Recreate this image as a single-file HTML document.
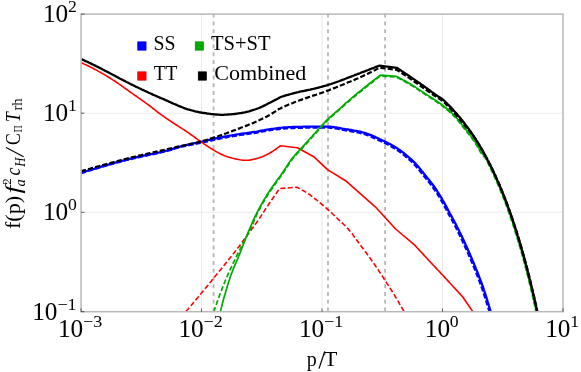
<!DOCTYPE html><html><head><meta charset="utf-8"><title>plot</title><style>html,body{margin:0;padding:0;background:#fff;font-family:"Liberation Serif",serif}svg{display:block;will-change:transform;opacity:0.999}</style></head><body><svg width="581" height="372" viewBox="0 0 581 372">
<rect width="581" height="372" fill="#fff"/>
<line x1="201.5" y1="14.1" x2="201.5" y2="311.7" stroke="#e6e6e6" stroke-width="0.8"/>
<line x1="322" y1="14.1" x2="322" y2="311.7" stroke="#e6e6e6" stroke-width="0.8"/>
<line x1="442.5" y1="14.1" x2="442.5" y2="311.7" stroke="#e6e6e6" stroke-width="0.8"/>
<line x1="81.1" y1="113.2" x2="563" y2="113.2" stroke="#e6e6e6" stroke-width="0.8"/>
<line x1="81.1" y1="212.3" x2="563" y2="212.3" stroke="#e6e6e6" stroke-width="0.8"/>
<line x1="213.6" y1="13.7" x2="213.6" y2="311.7" stroke="#b6b6b6" stroke-width="1.8" stroke-dasharray="3.9 3.83"/>
<line x1="328" y1="13.7" x2="328" y2="311.7" stroke="#b6b6b6" stroke-width="1.8" stroke-dasharray="3.9 3.83"/>
<line x1="385.1" y1="13.7" x2="385.1" y2="311.7" stroke="#b6b6b6" stroke-width="1.8" stroke-dasharray="3.9 3.83"/>
<defs><clipPath id="c"><rect x="81" y="14" width="482" height="297.7"/></clipPath></defs>
<g clip-path="url(#c)" fill="none" stroke-linejoin="round">
<path d="M81.0,172.8 L82.4,172.3 L83.9,171.9 L85.3,171.4 L86.8,171.0 L88.2,170.5 L89.6,170.1 L91.1,169.7 L92.5,169.2 L94.0,168.8 L95.4,168.3 L96.9,167.9 L98.3,167.5 L99.8,167.1 L101.2,166.6 L102.6,166.2 L104.1,165.8 L105.5,165.4 L107.0,165.0 L108.4,164.6 L109.9,164.1 L111.3,163.7 L112.8,163.3 L114.3,162.9 L115.7,162.5 L117.2,162.2 L118.6,161.8 L120.1,161.4 L121.5,161.0 L123.0,160.6 L124.4,160.2 L125.9,159.8 L127.4,159.5 L128.8,159.1 L130.3,158.7 L131.7,158.4 L133.2,158.0 L134.7,157.7 L136.1,157.3 L137.6,157.0 L139.1,156.7 L140.6,156.4 L142.0,156.0 L143.5,155.7 L145.0,155.4 L146.5,155.1 L147.9,154.8 L149.4,154.5 L150.9,154.2 L152.4,153.9 L153.8,153.6 L155.3,153.2 L156.8,152.9 L158.3,152.6 L159.7,152.3 L161.2,151.9 L162.7,151.6 L164.1,151.2 L165.6,150.9 L167.1,150.5 L168.5,150.1 L170.0,149.7 L171.4,149.3 L172.8,148.8 L174.3,148.3 L175.7,147.8 L177.1,147.4 L178.6,147.0 L180.0,146.6 L181.5,146.2 L182.9,145.9 L184.4,145.5 L185.9,145.2 L187.3,144.8 L188.8,144.5 L190.3,144.2 L191.8,143.8 L193.2,143.5 L194.7,143.2 L196.2,142.9 L197.7,142.5 L199.1,142.2 L200.6,141.9 L202.1,141.6 L203.5,141.2 L205.0,140.9 L206.5,140.5 L207.9,140.2 L209.4,139.8 L210.9,139.5 L212.4,139.2 L213.8,138.8 L215.3,138.5 L216.8,138.2 L218.2,137.9 L219.7,137.6 L221.2,137.3 L222.7,137.0 L224.2,136.7 L225.6,136.4 L227.1,136.2 L228.6,135.9 L230.1,135.6 L231.6,135.4 L233.1,135.1 L234.5,134.9 L236.0,134.6 L237.5,134.4 L239.0,134.2 L240.5,133.9 L242.0,133.7 L243.5,133.5 L245.0,133.3 L246.5,133.1 L248.0,132.9 L249.5,132.7 L250.9,132.5 L252.4,132.2 L253.9,132.0 L255.4,131.8 L256.9,131.6 L258.4,131.3 L259.9,131.0 L261.4,130.7 L262.8,130.4 L264.3,130.2 L265.8,129.9 L267.3,129.6 L268.8,129.4 L270.3,129.2 L271.8,129.0 L273.2,128.8 L274.7,128.6 L276.2,128.4 L277.7,128.2 L279.2,128.0 L280.7,127.8 L282.2,127.7 L283.7,127.5 L285.2,127.4 L286.7,127.3 L288.2,127.2 L289.7,127.2 L291.3,127.1 L292.8,127.0 L294.3,127.0 L295.8,126.9 L297.3,126.9 L298.8,126.8 L300.3,126.8 L301.8,126.8 L303.3,126.7 L304.8,126.7 L306.3,126.7 L307.8,126.7 L309.3,126.7 L310.8,126.6 L312.3,126.6 L313.9,126.6 L315.4,126.6 L316.9,126.6 L318.4,126.6 L319.9,126.6 L321.4,126.6 L322.9,126.6 L324.4,126.6 L325.9,126.6 L327.4,126.6 L328.9,126.6 L330.4,126.7 L331.9,126.9 L333.4,127.0 L334.9,127.3 L336.4,127.5 L337.9,127.8 L339.4,128.0 L340.9,128.3 L342.4,128.6 L343.8,128.8 L345.3,129.1 L346.8,129.3 L348.3,129.5 L349.8,129.8 L351.3,130.0 L352.8,130.3 L354.3,130.6 L355.7,130.8 L357.2,131.1 L358.7,131.4 L360.2,131.7 L361.7,132.1 L363.1,132.5 L364.5,132.9 L366.0,133.3 L367.4,133.8 L368.8,134.3 L370.2,134.8 L371.6,135.4 L373.0,136.0 L374.4,136.6 L375.8,137.3 L377.1,137.9 L378.5,138.5 L379.9,139.2 L381.2,139.8 L382.6,140.5 L384.0,141.1 L385.3,141.8 L386.7,142.4 L388.0,143.1 L389.4,143.8 L390.7,144.5 L392.1,145.3 L393.4,146.0 L394.7,146.8 L395.9,147.5 L397.2,148.3 L398.4,149.2 L399.7,150.0 L400.9,150.9 L402.1,151.8 L403.3,152.7 L404.5,153.7 L405.7,154.6 L406.8,155.6 L408.0,156.6 L409.1,157.6 L410.3,158.6 L411.4,159.5 L412.5,160.6 L413.6,161.6 L414.7,162.7 L415.7,163.8 L416.7,164.9 L417.7,166.0 L418.7,167.1 L419.6,168.3 L420.6,169.5 L421.5,170.7 L422.5,171.8 L423.4,173.0 L424.4,174.2 L425.3,175.4 L426.3,176.5 L427.2,177.7 L428.2,178.9 L429.1,180.1 L430.1,181.2 L431.0,182.4 L431.9,183.6 L432.8,184.8 L433.7,186.0 L434.6,187.2 L435.4,188.5 L436.3,189.7 L437.1,191.0 L437.9,192.3 L438.7,193.5 L439.5,194.8 L440.3,196.1 L441.1,197.4 L441.9,198.7 L442.6,200.0 L443.4,201.3 L444.1,202.6 L444.8,203.9 L445.6,205.3 L446.3,206.6 L447.0,207.9 L447.7,209.2 L448.4,210.6 L449.1,211.9 L449.8,213.2 L450.6,214.6 L451.3,215.9 L452.0,217.2 L452.7,218.5 L453.4,219.9 L454.1,221.2 L454.9,222.5 L455.6,223.9 L456.3,225.2 L456.9,226.5 L457.6,227.9 L458.3,229.2 L459.0,230.6 L459.6,231.9 L460.3,233.3 L461.0,234.6 L461.6,236.0 L462.2,237.4 L462.9,238.7 L463.5,240.1 L464.2,241.5 L464.8,242.8 L465.4,244.2 L466.0,245.6 L466.7,246.9 L467.3,248.3 L467.9,249.7 L468.5,251.1 L469.1,252.4 L469.7,253.8 L470.3,255.2 L470.9,256.6 L471.5,258.0 L472.1,259.4 L472.7,260.7 L473.3,262.1 L473.9,263.5 L474.4,264.9 L475.0,266.3 L475.6,267.7 L476.1,269.1 L476.7,270.5 L477.3,271.9 L477.8,273.3 L478.4,274.7 L478.9,276.1 L479.4,277.5 L480.0,278.9 L480.5,280.4 L481.0,281.8 L481.6,283.2 L482.1,284.6 L482.6,286.0 L483.1,287.4 L483.6,288.9 L484.0,290.3 L484.5,291.7 L485.0,293.1 L485.5,294.6 L485.9,296.0 L486.4,297.4 L486.8,298.9 L487.3,300.3 L487.7,301.8 L488.2,303.2 L488.6,304.6 L489.0,306.1 L489.5,307.5 L489.9,309.0 L490.3,310.4 L490.7,311.9" stroke="#0000ff" stroke-width="2.3"/>
<path d="M81.0,173.2 L82.4,172.7 L83.9,172.3 L85.3,171.8 L86.8,171.4 L88.2,170.9 L89.6,170.5 L91.1,170.1 L92.5,169.6 L94.0,169.2 L95.4,168.7 L96.9,168.3 L98.3,167.9 L99.8,167.5 L101.2,167.0 L102.7,166.6 L104.1,166.2 L105.6,165.8 L107.0,165.4 L108.5,165.0 L109.9,164.5 L111.4,164.1 L112.8,163.7 L114.3,163.3 L115.7,162.9 L117.2,162.5 L118.6,162.2 L120.1,161.8 L121.6,161.4 L123.0,161.0 L124.5,160.6 L125.9,160.2 L127.4,159.9 L128.8,159.5 L130.3,159.1 L131.8,158.8 L133.2,158.4 L134.7,158.1 L136.2,157.7 L137.7,157.4 L139.1,157.1 L140.6,156.8 L142.1,156.4 L143.6,156.1 L145.0,155.8 L146.5,155.5 L148.0,155.2 L149.5,154.9 L150.9,154.6 L152.4,154.3 L153.9,154.0 L155.4,153.6 L156.9,153.3 L158.3,153.0 L159.8,152.7 L161.3,152.3 L162.7,152.0 L164.2,151.6 L165.7,151.2 L167.1,150.9 L168.6,150.5 L170.0,150.1 L171.5,149.7 L172.9,149.2 L174.3,148.7 L175.8,148.2 L177.2,147.8 L178.7,147.4 L180.1,147.0 L181.6,146.7 L183.0,146.4 L184.5,146.0 L186.0,145.7 L187.5,145.4 L189.0,145.2 L190.4,144.9 L191.9,144.6 L193.4,144.3 L194.9,144.0 L196.4,143.7 L197.9,143.4 L199.3,143.1 L200.8,142.8 L202.3,142.5 L203.8,142.2 L205.2,141.9 L206.7,141.5 L208.2,141.2 L209.6,140.8 L211.1,140.5 L212.6,140.2 L214.1,139.8 L215.5,139.5 L217.0,139.2 L218.5,138.8 L220.0,138.5 L221.4,138.2 L222.9,137.9 L224.4,137.7 L225.9,137.4 L227.4,137.1 L228.8,136.9 L230.3,136.6 L231.8,136.3 L233.3,136.1 L234.8,135.8 L236.3,135.6 L237.8,135.4 L239.3,135.1 L240.7,134.9 L242.2,134.7 L243.7,134.5 L245.2,134.3 L246.7,134.0 L248.2,133.8 L249.7,133.6 L251.2,133.4 L252.7,133.2 L254.2,133.0 L255.7,132.8 L257.2,132.5 L258.7,132.2 L260.1,132.0 L261.6,131.7 L263.1,131.4 L264.6,131.1 L266.1,130.8 L267.6,130.6 L269.0,130.3 L270.5,130.1 L272.0,129.9 L273.5,129.7 L275.0,129.5 L276.5,129.3 L278.0,129.2 L279.5,129.0 L281.0,128.8 L282.5,128.7 L284.0,128.5 L285.5,128.4 L287.0,128.3 L288.5,128.2 L290.0,128.1 L291.5,128.1 L293.0,128.0 L294.6,128.0 L296.1,127.9 L297.6,127.9 L299.1,127.8 L300.6,127.8 L302.1,127.8 L303.6,127.7 L305.1,127.7 L306.6,127.7 L308.1,127.7 L309.6,127.7 L311.1,127.6 L312.7,127.6 L314.2,127.6 L315.7,127.6 L317.2,127.6 L318.7,127.6 L320.2,127.6 L321.7,127.6 L323.2,127.6 L324.7,127.6 L326.2,127.6 L327.7,127.6 L329.2,127.6 L330.7,127.8 L332.2,127.9 L333.7,128.1 L335.2,128.4 L336.7,128.7 L338.2,128.9 L339.7,129.2 L341.2,129.5 L342.7,129.8 L344.2,130.0 L345.6,130.3 L347.1,130.5 L348.6,130.8 L350.1,131.0 L351.6,131.3 L353.1,131.5 L354.6,131.8 L356.0,132.1 L357.5,132.4 L359.0,132.7 L360.5,133.0 L361.9,133.4 L363.4,133.8 L364.8,134.2 L366.2,134.7 L367.7,135.2 L369.1,135.8 L370.5,136.4 L371.9,137.0 L373.2,137.6 L374.6,138.2 L376.0,138.8 L377.4,139.5 L378.7,140.1 L380.1,140.7 L381.5,141.4 L382.8,142.0 L384.2,142.7 L385.6,143.4 L386.9,144.0 L388.3,144.7 L389.6,145.5 L390.9,146.2 L392.2,146.9 L393.5,147.7 L394.8,148.5 L396.1,149.3 L397.3,150.1 L398.6,150.9 L399.8,151.8 L401.0,152.7 L402.2,153.6 L403.4,154.6 L404.6,155.5 L405.7,156.5 L406.9,157.5 L408.0,158.5 L409.2,159.5 L410.3,160.5 L411.4,161.5 L412.5,162.5 L413.6,163.6 L414.6,164.7 L415.6,165.8 L416.6,166.9 L417.6,168.1 L418.6,169.2 L419.5,170.4 L420.5,171.6 L421.4,172.8 L422.3,173.9 L423.3,175.1 L424.2,176.3 L425.2,177.5 L426.1,178.6 L427.1,179.8 L428.1,181.0 L429.0,182.1 L429.9,183.3 L430.9,184.5 L431.8,185.7 L432.7,186.9 L433.5,188.2 L434.4,189.4 L435.2,190.7 L436.1,191.9 L436.9,193.2 L437.7,194.5 L438.5,195.7 L439.3,197.0 L440.0,198.3 L440.8,199.6 L441.6,200.9 L442.3,202.2 L443.1,203.5 L443.8,204.9 L444.5,206.2 L445.2,207.5 L446.0,208.8 L446.7,210.2 L447.4,211.5 L448.1,212.8 L448.8,214.2 L449.5,215.5 L450.2,216.8 L451.0,218.1 L451.7,219.5 L452.4,220.8 L453.1,222.1 L453.8,223.5 L454.5,224.8 L455.2,226.1 L455.9,227.5 L456.6,228.8 L457.3,230.2 L457.9,231.5 L458.6,232.9 L459.3,234.2 L459.9,235.6 L460.6,236.9 L461.2,238.3 L461.9,239.7 L462.5,241.0 L463.1,242.4 L463.8,243.8 L464.4,245.1 L465.0,246.5 L465.6,247.9 L466.3,249.3 L466.9,250.6 L467.5,252.0 L468.1,253.4 L468.7,254.8 L469.3,256.2 L469.9,257.5 L470.5,258.9 L471.1,260.3 L471.7,261.7 L472.3,263.1 L472.9,264.5 L473.4,265.9 L474.0,267.3 L474.6,268.7 L475.1,270.1 L475.7,271.5 L476.2,272.9 L476.8,274.3 L477.4,275.7 L477.9,277.1 L478.4,278.5 L479.0,279.9 L479.5,281.3 L480.0,282.7 L480.6,284.2 L481.1,285.6 L481.6,287.0 L482.1,288.4 L482.6,289.8 L483.0,291.3 L483.5,292.7 L484.0,294.1 L484.5,295.6 L484.9,297.0 L485.4,298.4 L485.8,299.9 L486.3,301.3 L486.7,302.8 L487.2,304.2 L487.6,305.6 L488.0,307.1 L488.5,308.5 L488.9,310.0 L489.3,311.4 L489.7,312.9" stroke="#0000ff" stroke-width="2.3" stroke-dasharray="5.2 2.2"/>
<path d="M81.0,62.6 L82.4,63.2 L83.8,63.9 L85.1,64.5 L86.5,65.1 L87.9,65.8 L89.2,66.5 L90.6,67.1 L91.9,67.8 L93.3,68.5 L94.6,69.2 L95.9,69.9 L97.3,70.6 L98.6,71.4 L99.9,72.1 L101.2,72.8 L102.5,73.6 L103.8,74.3 L105.1,75.1 L106.4,75.9 L107.7,76.7 L109.0,77.5 L110.3,78.3 L111.6,79.1 L112.8,79.9 L114.1,80.7 L115.4,81.5 L116.6,82.4 L117.9,83.2 L119.1,84.1 L120.4,84.9 L121.6,85.8 L122.8,86.7 L124.0,87.6 L125.3,88.5 L126.5,89.3 L127.7,90.2 L128.9,91.1 L130.2,92.0 L131.4,92.9 L132.6,93.7 L133.9,94.6 L135.1,95.5 L136.4,96.3 L137.6,97.2 L138.8,98.1 L140.1,98.9 L141.3,99.8 L142.5,100.7 L143.8,101.6 L145.0,102.4 L146.2,103.3 L147.4,104.2 L148.7,105.1 L149.9,106.0 L151.1,106.9 L152.3,107.8 L153.5,108.8 L154.6,109.7 L155.8,110.6 L157.0,111.6 L158.2,112.5 L159.4,113.4 L160.7,114.3 L161.9,115.2 L163.1,116.0 L164.3,116.9 L165.6,117.8 L166.8,118.6 L168.1,119.5 L169.3,120.3 L170.6,121.2 L171.8,122.0 L173.1,122.8 L174.4,123.7 L175.6,124.5 L176.9,125.3 L178.2,126.1 L179.4,126.9 L180.7,127.7 L182.0,128.6 L183.3,129.4 L184.5,130.2 L185.8,131.0 L187.0,131.9 L188.3,132.7 L189.5,133.6 L190.7,134.5 L192.0,135.4 L193.2,136.2 L194.4,137.1 L195.6,138.0 L196.9,138.9 L198.1,139.8 L199.3,140.6 L200.6,141.5 L201.8,142.4 L203.1,143.2 L204.3,144.1 L205.6,144.9 L206.8,145.8 L208.1,146.6 L209.3,147.4 L210.6,148.2 L211.9,149.0 L213.2,149.8 L214.5,150.6 L215.8,151.4 L217.1,152.1 L218.4,152.8 L219.8,153.5 L221.1,154.2 L222.5,154.8 L223.9,155.4 L225.3,156.0 L226.7,156.5 L228.2,157.0 L229.6,157.4 L231.1,157.8 L232.5,158.2 L234.0,158.5 L235.5,158.9 L237.0,159.2 L238.5,159.5 L240.0,159.8 L241.5,160.0 L243.0,160.2 L244.5,160.3 L246.0,160.3 L247.5,160.2 L249.0,160.1 L250.5,159.9 L252.0,159.6 L253.5,159.3 L254.9,158.9 L256.4,158.6 L257.9,158.2 L259.3,157.8 L260.7,157.3 L262.1,156.8 L263.5,156.2 L264.9,155.5 L266.3,154.9 L267.6,154.2 L269.0,153.5 L270.3,152.8 L271.6,152.0 L272.9,151.2 L274.1,150.4 L275.4,149.5 L276.6,148.6 L277.8,147.7 L279.0,146.8 L280.2,145.8 L297.4,147.7 L313.7,156.7 L327.5,169.6 L346.4,181.3 L375.3,206.8 L395.6,229.0 L414.5,244.9 L415.5,246.0 L416.6,247.2 L417.6,248.3 L418.7,249.4 L419.7,250.6 L420.8,251.7 L421.8,252.8 L422.8,253.9 L423.9,255.1 L424.9,256.2 L426.0,257.3 L427.0,258.5 L428.1,259.6 L429.1,260.7 L430.2,261.8 L431.2,263.0 L432.3,264.1 L433.3,265.2 L434.4,266.3 L435.4,267.4 L436.5,268.6 L437.5,269.7 L438.6,270.8 L439.7,271.9 L440.7,273.1 L441.7,274.2 L442.8,275.3 L443.8,276.4 L444.9,277.6 L445.9,278.7 L447.0,279.8 L448.0,280.9 L449.1,282.1 L450.1,283.2 L451.2,284.3 L452.2,285.5 L453.2,286.6 L454.3,287.7 L455.3,288.9 L456.4,290.0 L457.4,291.1 L458.4,292.3 L459.5,293.4 L460.5,294.5 L461.6,295.7 L462.6,296.8 L473.0,311.9" stroke="#ff0000" stroke-width="1.6"/>
<path d="M186.0,311.5 L187.0,310.3 L188.0,309.2 L188.9,308.0 L189.9,306.9 L190.9,305.7 L191.9,304.5 L192.8,303.4 L193.8,302.2 L194.8,301.1 L195.7,299.9 L196.7,298.7 L197.7,297.6 L198.7,296.4 L199.6,295.2 L200.6,294.1 L201.6,292.9 L202.5,291.7 L203.5,290.6 L204.5,289.4 L205.4,288.2 L206.4,287.1 L207.3,285.9 L208.3,284.7 L209.3,283.5 L210.2,282.4 L211.2,281.2 L212.1,280.0 L213.1,278.8 L214.1,277.7 L215.0,276.5 L216.0,275.3 L216.9,274.1 L217.9,273.0 L218.8,271.8 L219.8,270.6 L220.8,269.4 L221.7,268.3 L222.7,267.1 L223.6,265.9 L224.6,264.7 L225.5,263.5 L226.5,262.4 L227.4,261.2 L228.4,260.0 L229.3,258.8 L230.3,257.6 L231.2,256.4 L232.1,255.3 L233.1,254.1 L234.0,252.9 L235.0,251.7 L235.9,250.5 L236.8,249.3 L237.7,248.1 L238.7,246.9 L239.6,245.7 L240.5,244.5 L241.4,243.3 L242.3,242.0 L243.2,240.8 L244.1,239.6 L245.0,238.4 L245.9,237.2 L246.8,235.9 L247.7,234.7 L248.6,233.5 L249.5,232.3 L250.4,231.1 L251.3,229.8 L252.2,228.6 L253.1,227.4 L254.0,226.2 L254.9,224.9 L255.7,223.7 L256.6,222.5 L257.5,221.2 L258.3,220.0 L259.2,218.7 L260.0,217.4 L260.9,216.2 L261.7,214.9 L262.5,213.6 L263.3,212.4 L264.2,211.1 L265.0,209.8 L265.8,208.6 L266.7,207.3 L267.5,206.1 L268.4,204.8 L269.2,203.5 L270.1,202.3 L270.9,201.0 L271.8,199.8 L272.7,198.5 L273.5,197.3 L274.4,196.1 L275.3,194.8 L276.1,193.6 L277.0,192.3 L277.9,191.1 L278.7,189.8 L279.6,188.6 L296.8,187.2 L298.2,187.9 L299.5,188.6 L300.9,189.3 L302.2,190.1 L303.5,190.8 L304.9,191.6 L306.2,192.4 L307.4,193.2 L308.7,194.0 L310.0,194.9 L311.2,195.8 L312.4,196.7 L313.6,197.6 L314.8,198.6 L316.0,199.5 L317.2,200.5 L318.4,201.5 L319.5,202.5 L320.7,203.4 L321.9,204.4 L323.1,205.4 L324.2,206.4 L325.4,207.4 L326.5,208.4 L327.7,209.4 L328.8,210.4 L329.9,211.4 L331.1,212.4 L332.2,213.5 L333.3,214.5 L334.4,215.6 L335.5,216.6 L336.6,217.7 L337.7,218.8 L338.8,219.8 L339.9,220.9 L341.0,221.9 L342.1,222.9 L343.3,224.0 L344.4,225.0 L345.5,226.1 L346.5,227.1 L347.6,228.3 L348.6,229.4 L349.5,230.6 L350.5,231.7 L351.4,232.9 L352.4,234.1 L353.3,235.4 L354.2,236.6 L355.1,237.8 L356.0,239.0 L356.9,240.3 L357.8,241.5 L358.7,242.8 L359.6,244.0 L360.5,245.2 L361.4,246.5 L362.4,247.7 L363.3,248.9 L364.2,250.1 L365.1,251.4 L366.0,252.6 L366.9,253.8 L367.8,255.0 L368.7,256.3 L369.6,257.5 L370.5,258.8 L371.4,260.0 L372.2,261.2 L373.1,262.5 L374.0,263.7 L374.9,265.0 L375.7,266.3 L376.6,267.5 L377.4,268.8 L378.3,270.0 L379.1,271.3 L380.0,272.6 L380.8,273.9 L381.6,275.1 L382.5,276.4 L383.3,277.7 L384.1,279.0 L385.0,280.2 L385.8,281.5 L386.6,282.8 L387.4,284.1 L388.3,285.4 L389.1,286.7 L389.9,287.9 L390.7,289.2 L391.5,290.5 L392.4,291.8 L393.2,293.1 L394.0,294.4 L394.8,295.7 L395.5,297.0 L396.3,298.3 L397.1,299.6 L397.9,300.9 L398.7,302.2 L399.4,303.6 L400.2,304.9 L401.0,306.2 L401.7,307.5 L402.5,308.8 L403.3,310.2 L404.0,311.5" stroke="#ff0000" stroke-width="1.6" stroke-dasharray="5 2.4"/>
<path d="M220.4,311.5 L220.8,310.0 L221.1,308.6 L221.5,307.1 L221.9,305.6 L222.2,304.2 L222.6,302.7 L223.0,301.2 L223.4,299.8 L223.8,298.3 L224.2,296.9 L224.6,295.4 L225.1,294.0 L225.5,292.5 L225.9,291.1 L226.3,289.6 L226.8,288.2 L227.2,286.7 L227.6,285.3 L228.1,283.8 L228.5,282.4 L229.0,280.9 L229.5,279.5 L229.9,278.1 L230.4,276.6 L230.9,275.2 L231.4,273.8 L232.0,272.4 L232.5,271.0 L233.0,269.6 L233.6,268.2 L234.2,266.8 L234.8,265.4 L235.4,264.0 L236.0,262.6 L236.6,261.2 L237.2,259.8 L237.8,258.4 L238.3,257.0 L238.9,255.6 L239.5,254.2 L240.1,252.8 L240.6,251.4 L241.2,250.0 L241.7,248.6 L242.3,247.2 L242.8,245.8 L243.4,244.4 L243.9,242.9 L244.5,241.5 L245.0,240.1 L245.6,238.7 L246.1,237.3 L246.7,235.9 L247.2,234.5 L247.8,233.1 L248.4,231.7 L249.0,230.3 L249.6,228.9 L250.2,227.5 L250.8,226.1 L251.4,224.8 L252.0,223.4 L252.6,222.0 L253.2,220.6 L253.8,219.2 L254.5,217.9 L255.1,216.5 L255.8,215.1 L256.4,213.8 L257.1,212.4 L257.8,211.1 L258.5,209.7 L259.2,208.4 L259.9,207.1 L260.6,205.7 L261.4,204.4 L262.1,203.1 L262.9,201.8 L263.6,200.5 L264.4,199.2 L265.2,197.9 L266.0,196.6 L266.8,195.3 L267.6,194.0 L268.4,192.7 L269.2,191.5 L270.0,190.2 L270.9,189.0 L271.7,187.7 L272.6,186.5 L273.5,185.3 L274.4,184.0 L275.3,182.8 L276.1,181.6 L277.0,180.3 L277.9,179.1 L278.8,177.9 L279.7,176.7 L280.6,175.5 L281.5,174.2 L282.3,173.0 L283.2,171.7 L284.0,170.5 L284.8,169.2 L285.7,167.9 L286.5,166.6 L287.3,165.4 L288.1,164.1 L289.0,162.8 L289.8,161.6 L290.7,160.4 L291.6,159.1 L292.5,158.0 L293.4,156.8 L294.4,155.7 L295.4,154.5 L296.5,153.4 L297.5,152.3 L298.6,151.2 L299.6,150.1 L300.6,149.0 L301.6,147.9 L302.7,146.8 L303.7,145.6 L304.7,144.5 L305.7,143.4 L306.7,142.3 L307.7,141.2 L308.7,140.0 L309.8,138.9 L310.8,137.8 L311.8,136.7 L312.8,135.5 L313.8,134.4 L314.8,133.3 L315.8,132.2 L316.9,131.1 L317.9,129.9 L318.9,128.8 L319.9,127.7 L320.9,126.6 L321.9,125.4 L322.9,124.3 L323.9,123.2 L324.9,122.0 L326.0,120.9 L327.0,119.9 L328.1,118.8 L329.2,117.8 L330.3,116.8 L331.5,115.8 L332.6,114.8 L333.8,113.8 L334.9,112.8 L336.0,111.8 L337.2,110.8 L338.3,109.8 L339.4,108.8 L340.6,107.8 L341.7,106.8 L342.8,105.8 L343.9,104.8 L345.1,103.7 L346.2,102.7 L347.3,101.8 L348.5,100.8 L349.6,99.8 L350.8,98.8 L351.9,97.8 L353.1,96.8 L354.2,95.9 L355.4,94.9 L356.6,93.9 L357.7,93.0 L358.9,92.0 L360.1,91.1 L361.3,90.1 L362.4,89.2 L363.6,88.2 L364.8,87.3 L366.0,86.4 L367.2,85.4 L368.4,84.5 L369.5,83.5 L370.7,82.6 L371.9,81.7 L373.1,80.7 L374.3,79.8 L375.5,78.9 L376.7,78.0 L377.9,77.0 L379.1,76.1 L380.3,75.2 L396.4,76.4 L397.8,77.1 L399.1,77.8 L400.5,78.5 L401.8,79.2 L403.1,79.9 L404.5,80.6 L405.8,81.3 L407.1,82.1 L408.4,82.8 L409.7,83.6 L411.0,84.3 L412.3,85.1 L413.6,85.9 L414.8,86.7 L416.1,87.6 L417.4,88.4 L418.6,89.2 L419.9,90.1 L421.1,90.9 L422.4,91.8 L423.7,92.6 L424.9,93.5 L426.2,94.3 L427.4,95.1 L428.7,95.9 L430.0,96.7 L431.3,97.5 L432.6,98.3 L433.8,99.2 L435.1,100.0 L436.4,100.8 L437.6,101.6 L438.9,102.5 L440.1,103.4 L441.3,104.3 L442.5,105.2 L443.7,106.1 L444.9,107.1 L446.1,108.0 L447.2,109.0 L448.4,110.0 L449.5,111.0 L450.7,112.0 L451.8,113.0 L452.9,114.1 L453.9,115.1 L455.0,116.2 L456.0,117.3 L457.0,118.4 L458.0,119.6 L458.9,120.7 L459.9,121.9 L460.8,123.1 L461.7,124.3 L462.7,125.5 L463.6,126.7 L464.5,127.9 L465.5,129.1 L466.4,130.3 L467.4,131.4 L468.3,132.6 L469.3,133.8 L470.2,135.0 L471.1,136.2 L472.1,137.4 L473.0,138.6 L473.9,139.8 L474.7,141.0 L475.6,142.3 L476.3,143.6 L477.1,144.9 L477.8,146.2 L478.6,147.6 L479.3,148.9 L480.1,150.2 L480.9,151.5 L481.7,152.7 L482.6,153.9 L483.6,155.1 L484.6,156.2 L485.5,157.4 L486.3,158.6 L487.1,160.0 L487.7,161.3 L488.4,162.7 L489.1,164.1 L489.7,165.4 L490.4,166.8 L491.1,168.1 L491.7,169.5 L492.4,170.9 L493.0,172.2 L493.7,173.6 L494.3,175.0 L494.9,176.3 L495.5,177.7 L496.2,179.1 L496.8,180.5 L497.4,181.9 L498.0,183.3 L498.6,184.6 L499.2,186.0 L499.8,187.4 L500.3,188.8 L500.9,190.2 L501.5,191.6 L502.0,193.0 L502.6,194.4 L503.2,195.8 L503.7,197.2 L504.3,198.6 L504.8,200.1 L505.3,201.5 L505.9,202.9 L506.4,204.3 L506.9,205.7 L507.5,207.1 L508.0,208.6 L508.5,210.0 L509.0,211.4 L509.5,212.8 L510.0,214.2 L510.5,215.7 L511.0,217.1 L511.5,218.5 L512.0,220.0 L512.4,221.4 L512.9,222.8 L513.4,224.3 L513.9,225.7 L514.3,227.1 L514.8,228.6 L515.2,230.0 L515.7,231.5 L516.2,232.9 L516.6,234.3 L517.1,235.8 L517.5,237.2 L517.9,238.7 L518.4,240.1 L518.8,241.6 L519.2,243.0 L519.7,244.5 L520.1,245.9 L520.5,247.4 L520.9,248.8 L521.3,250.3 L521.8,251.7 L522.2,253.2 L522.6,254.6 L523.0,256.1 L523.4,257.6 L523.8,259.0 L524.2,260.5 L524.6,261.9 L525.0,263.4 L525.3,264.9 L525.7,266.3 L526.1,267.8 L526.5,269.2 L526.9,270.7 L527.3,272.2 L527.6,273.6 L528.0,275.1 L528.4,276.6 L528.7,278.0 L529.1,279.5 L529.5,281.0 L529.8,282.4 L530.2,283.9 L530.5,285.4 L530.9,286.8 L531.2,288.3 L531.6,289.8 L531.9,291.3 L532.3,292.7 L532.6,294.2 L533.0,295.7 L533.3,297.1 L533.6,298.6 L534.0,300.1 L534.3,301.6 L534.6,303.0 L535.0,304.5 L535.3,306.0 L535.6,307.5 L535.9,308.9 L536.2,310.4 L536.5,311.9" stroke="#00aa00" stroke-width="1.7"/>
<path d="M213.8,311.9 L214.3,310.5 L214.7,309.0 L215.2,307.6 L215.7,306.1 L216.2,304.7 L216.7,303.3 L217.2,301.9 L217.7,300.4 L218.2,299.0 L218.7,297.6 L219.2,296.2 L219.8,294.7 L220.3,293.3 L220.8,291.9 L221.4,290.5 L221.9,289.1 L222.5,287.7 L223.0,286.3 L223.6,284.8 L224.2,283.4 L224.8,282.0 L225.3,280.6 L225.9,279.2 L226.5,277.9 L227.1,276.5 L227.7,275.1 L228.3,273.7 L228.9,272.3 L229.6,270.9 L230.2,269.5 L230.8,268.2 L231.5,266.8 L232.1,265.4 L232.8,264.1 L233.4,262.7 L234.1,261.3 L234.7,260.0 L235.4,258.6 L236.0,257.2 L236.7,255.9 L237.4,254.5 L238.0,253.2 L238.7,251.8 L239.4,250.4 L240.1,249.1 L240.8,247.7 L241.4,246.4 L242.1,245.0 L242.8,243.7 L243.5,242.3 L244.2,241.0 L244.9,239.6 L245.6,238.3 L246.3,236.9 L247.0,235.6 L247.7,234.3 L248.4,232.9 L249.1,231.6 L249.8,230.2 L250.5,228.9 L251.1,227.5 L251.8,226.2 L252.4,224.8 L253.0,223.4 L253.6,222.0 L254.2,220.6 L254.8,219.2 L255.4,217.8 L256.0,216.4 L256.6,215.0 L257.2,213.7 L257.9,212.3 L258.6,211.0 L259.3,209.6 L260.0,208.3 L260.7,206.9 L261.4,205.6 L262.2,204.3 L262.9,203.0 L263.7,201.7 L264.5,200.4 L265.3,199.1 L266.0,197.8 L266.8,196.5 L267.6,195.2 L268.4,193.9 L269.3,192.6 L270.1,191.4 L270.9,190.1 L271.8,188.9 L272.7,187.6 L273.5,186.4 L274.4,185.2 L275.3,183.9 L276.2,182.7 L277.1,181.5 L278.0,180.2 L278.9,179.0 L279.8,177.8 L280.7,176.6 L281.6,175.4 L282.4,174.1 L283.3,172.9 L284.1,171.6 L284.9,170.3 L285.8,169.0 L286.6,167.8 L287.4,166.5 L288.2,165.2 L289.0,163.9 L289.9,162.7 L290.8,161.4 L291.6,160.2 L292.5,159.0 L293.5,157.8 L294.5,156.7 L295.5,155.6 L296.5,154.4 L297.5,153.3 L298.6,152.2 L299.6,151.1 L300.7,150.0 L301.7,148.9 L302.7,147.8 L303.7,146.7 L304.7,145.5 L305.7,144.4 L306.8,143.3 L307.8,142.2 L308.8,141.0 L309.8,139.9 L310.8,138.8 L311.8,137.7 L312.9,136.5 L313.9,135.4 L314.9,134.3 L315.9,133.2 L316.9,132.0 L317.9,130.9 L318.9,129.8 L320.0,128.7 L321.0,127.6 L322.0,126.4 L323.0,125.3 L324.0,124.1 L325.0,123.0 L326.0,121.9 L327.1,120.8 L328.2,119.8 L329.3,118.7 L330.4,117.7 L331.5,116.7 L332.6,115.7 L333.8,114.7 L334.9,113.7 L336.1,112.7 L337.2,111.7 L338.3,110.7 L339.5,109.7 L340.6,108.7 L341.7,107.7 L342.9,106.7 L344.0,105.6 L345.1,104.6 L346.3,103.6 L347.4,102.6 L348.5,101.6 L349.7,100.7 L350.8,99.7 L352.0,98.7 L353.1,97.7 L354.3,96.7 L355.5,95.8 L356.6,94.8 L357.8,93.9 L359.0,92.9 L360.2,91.9 L361.3,91.0 L362.5,90.0 L363.7,89.1 L364.9,88.1 L366.0,87.2 L367.2,86.2 L368.4,85.3 L369.6,84.3 L370.8,83.4 L372.0,82.5 L373.2,81.5 L374.3,80.6 L375.5,79.6 L376.7,78.7 L377.9,77.8 L379.1,76.8 L380.3,75.9 L396.1,77.1 L397.5,77.8 L398.8,78.4 L400.2,79.1 L401.5,79.8 L402.8,80.5 L404.2,81.3 L405.5,82.0 L406.8,82.7 L408.1,83.5 L409.4,84.2 L410.7,85.0 L412.0,85.8 L413.3,86.6 L414.5,87.4 L415.8,88.2 L417.1,89.1 L418.3,89.9 L419.6,90.7 L420.8,91.6 L422.1,92.4 L423.4,93.3 L424.6,94.1 L425.9,95.0 L427.1,95.8 L428.4,96.6 L429.7,97.4 L431.0,98.2 L432.3,99.0 L433.5,99.8 L434.8,100.6 L436.1,101.5 L437.3,102.3 L438.6,103.2 L439.8,104.0 L441.0,104.9 L442.2,105.9 L443.4,106.8 L444.6,107.7 L445.7,108.7 L446.9,109.7 L448.1,110.7 L449.2,111.7 L450.3,112.7 L451.4,113.7 L452.5,114.7 L453.6,115.8 L454.7,116.9 L455.7,118.0 L456.7,119.1 L457.6,120.2 L458.6,121.4 L459.5,122.6 L460.5,123.8 L461.4,125.0 L462.3,126.2 L463.3,127.4 L464.2,128.6 L465.1,129.8 L466.1,130.9 L467.0,132.1 L468.0,133.3 L468.9,134.5 L469.9,135.7 L470.8,136.9 L471.7,138.1 L472.6,139.3 L473.5,140.5 L474.4,141.7 L475.2,143.0 L476.0,144.3 L476.7,145.6 L477.5,146.9 L478.2,148.2 L479.0,149.6 L479.7,150.9 L480.5,152.2 L481.3,153.4 L482.2,154.6 L483.2,155.7 L484.3,156.9 L485.2,158.1 L486.0,159.3 L486.7,160.6 L487.4,162.0 L488.0,163.4 L488.7,164.7 L489.4,166.1 L490.0,167.4 L490.7,168.8 L491.3,170.2 L492.0,171.5 L492.6,172.9 L493.3,174.3 L493.9,175.6 L494.5,177.0 L495.2,178.4 L495.8,179.8 L496.4,181.1 L497.0,182.5 L497.6,183.9 L498.2,185.3 L498.8,186.7 L499.4,188.1 L500.0,189.5 L500.5,190.9 L501.1,192.3 L501.7,193.7 L502.2,195.1 L502.8,196.5 L503.3,197.9 L503.9,199.3 L504.4,200.7 L505.0,202.1 L505.5,203.5 L506.0,204.9 L506.6,206.4 L507.1,207.8 L507.6,209.2 L508.1,210.6 L508.6,212.0 L509.1,213.5 L509.6,214.9 L510.1,216.3 L510.6,217.7 L511.1,219.2 L511.6,220.6 L512.1,222.0 L512.5,223.5 L513.0,224.9 L513.5,226.3 L513.9,227.8 L514.4,229.2 L514.9,230.7 L515.3,232.1 L515.8,233.5 L516.2,235.0 L516.7,236.4 L517.1,237.9 L517.5,239.3 L518.0,240.8 L518.4,242.2 L518.8,243.7 L519.3,245.1 L519.7,246.6 L520.1,248.0 L520.5,249.5 L521.0,250.9 L521.4,252.4 L521.8,253.8 L522.2,255.3 L522.6,256.7 L523.0,258.2 L523.4,259.6 L523.8,261.1 L524.2,262.6 L524.6,264.0 L525.0,265.5 L525.3,266.9 L525.7,268.4 L526.1,269.9 L526.5,271.3 L526.9,272.8 L527.2,274.3 L527.6,275.7 L528.0,277.2 L528.3,278.6 L528.7,280.1 L529.1,281.6 L529.4,283.0 L529.8,284.5 L530.1,286.0 L530.5,287.5 L530.8,288.9 L531.2,290.4 L531.5,291.9 L531.9,293.3 L532.2,294.8 L532.6,296.3 L532.9,297.7 L533.2,299.2 L533.6,300.7 L533.9,302.2 L534.2,303.6 L534.6,305.1 L534.9,306.6 L535.2,308.1 L535.5,309.5 L535.8,311.0 L536.1,312.5" stroke="#00aa00" stroke-width="1.7" stroke-dasharray="5 2.4"/>
<path d="M81.0,59.0 L82.4,59.6 L83.8,60.2 L85.1,60.9 L86.5,61.5 L87.9,62.1 L89.3,62.8 L90.6,63.4 L92.0,64.1 L93.4,64.7 L94.7,65.4 L96.1,66.1 L97.4,66.7 L98.8,67.4 L100.1,68.1 L101.5,68.8 L102.8,69.5 L104.2,70.2 L105.5,70.9 L106.8,71.6 L108.2,72.3 L109.5,73.0 L110.9,73.7 L112.2,74.4 L113.5,75.1 L114.9,75.8 L116.2,76.5 L117.6,77.2 L118.9,78.0 L120.2,78.7 L121.6,79.4 L122.9,80.1 L124.3,80.8 L125.6,81.5 L127.0,82.2 L128.3,82.8 L129.6,83.5 L131.0,84.2 L132.4,84.9 L133.7,85.5 L135.1,86.2 L136.4,86.9 L137.8,87.5 L139.2,88.2 L140.5,88.8 L141.9,89.5 L143.3,90.1 L144.6,90.8 L146.0,91.4 L147.4,92.0 L148.8,92.7 L150.1,93.3 L151.5,93.9 L152.9,94.6 L154.3,95.2 L155.7,95.8 L157.0,96.4 L158.4,97.0 L159.8,97.6 L161.2,98.2 L162.6,98.8 L164.0,99.4 L165.4,100.0 L166.8,100.6 L168.1,101.2 L169.5,101.9 L170.9,102.5 L172.3,103.1 L173.7,103.7 L175.1,104.3 L176.5,104.9 L177.8,105.5 L179.2,106.1 L180.6,106.6 L182.1,107.2 L183.5,107.8 L184.9,108.3 L186.3,108.8 L187.7,109.3 L189.2,109.7 L190.6,110.1 L192.1,110.5 L193.6,110.9 L195.1,111.3 L196.5,111.6 L198.0,111.9 L199.5,112.3 L201.0,112.5 L202.5,112.8 L204.0,113.0 L205.5,113.2 L207.0,113.5 L208.5,113.7 L210.0,113.9 L211.5,114.1 L213.0,114.2 L214.5,114.4 L216.0,114.5 L217.5,114.7 L219.0,114.7 L220.5,114.8 L222.0,114.8 L223.6,114.8 L225.1,114.7 L226.6,114.6 L228.1,114.5 L229.6,114.4 L231.1,114.3 L232.6,114.1 L234.1,114.0 L235.6,113.8 L237.1,113.6 L238.6,113.4 L240.1,113.2 L241.6,113.0 L243.1,112.7 L244.6,112.4 L246.1,112.0 L247.6,111.7 L249.0,111.3 L250.5,110.8 L251.9,110.4 L253.4,109.9 L254.8,109.5 L256.3,109.0 L257.7,108.5 L259.1,108.0 L260.4,107.4 L261.8,106.7 L263.2,106.1 L264.6,105.4 L265.9,104.7 L267.3,104.0 L268.6,103.3 L270.0,102.7 L271.3,102.0 L272.7,101.3 L274.0,100.6 L275.4,99.9 L276.7,99.2 L278.0,98.5 L279.4,97.7 L280.7,97.0 L282.2,96.5 L283.6,96.1 L285.1,95.6 L286.6,95.2 L288.0,94.8 L289.5,94.4 L291.0,94.0 L292.4,93.6 L293.9,93.2 L295.4,92.8 L296.9,92.4 L298.4,92.1 L299.9,91.7 L301.4,91.4 L302.9,91.1 L304.4,90.8 L305.9,90.5 L307.4,90.2 L308.8,89.9 L310.3,89.6 L311.8,89.2 L313.3,88.9 L314.8,88.5 L316.3,88.2 L317.8,87.8 L319.3,87.4 L320.7,87.0 L322.2,86.6 L323.7,86.2 L325.1,85.8 L326.6,85.4 L328.1,84.9 L329.5,84.4 L331.0,84.0 L332.4,83.5 L333.9,83.0 L335.3,82.5 L336.8,82.0 L338.2,81.5 L339.7,81.0 L341.1,80.4 L342.5,79.9 L343.9,79.4 L345.4,78.8 L346.8,78.2 L348.2,77.7 L349.6,77.1 L351.1,76.6 L352.5,76.0 L353.9,75.5 L355.3,74.9 L356.8,74.4 L358.2,73.8 L359.6,73.3 L361.0,72.7 L362.5,72.2 L363.9,71.6 L365.3,71.1 L366.8,70.5 L368.2,70.0 L369.6,69.4 L371.0,68.9 L372.5,68.3 L373.9,67.8 L375.3,67.2 L376.7,66.7 L378.2,66.1 L379.6,65.6 L396.8,67.8 L398.1,68.6 L399.3,69.5 L400.6,70.3 L401.8,71.1 L403.1,72.0 L404.4,72.8 L405.6,73.7 L406.9,74.5 L408.1,75.3 L409.4,76.2 L410.6,77.0 L411.9,77.9 L413.1,78.7 L414.4,79.6 L415.6,80.5 L416.9,81.3 L418.1,82.2 L419.4,83.0 L420.6,83.9 L421.8,84.8 L423.1,85.6 L424.3,86.5 L425.5,87.4 L426.8,88.3 L428.0,89.1 L429.2,90.0 L430.4,91.0 L431.6,91.9 L432.8,92.8 L434.1,93.6 L435.3,94.5 L436.6,95.4 L437.8,96.2 L439.1,97.0 L440.4,97.8 L441.7,98.6 L442.9,99.5 L444.0,100.5 L445.1,101.6 L446.1,102.7 L447.2,103.7 L448.3,104.8 L449.4,105.9 L450.4,106.9 L451.5,108.0 L452.5,109.1 L453.5,110.3 L454.5,111.4 L455.5,112.5 L456.5,113.6 L457.5,114.8 L458.5,115.9 L459.5,117.1 L460.5,118.2 L461.4,119.4 L462.4,120.6 L463.3,121.8 L464.2,123.0 L465.1,124.2 L466.1,125.4 L467.0,126.6 L467.9,127.8 L468.7,129.0 L469.6,130.3 L470.5,131.5 L471.3,132.7 L472.2,134.0 L473.0,135.3 L473.9,136.5 L474.7,137.8 L475.5,139.0 L476.3,140.3 L477.1,141.6 L477.9,142.9 L478.7,144.2 L479.5,145.5 L480.3,146.8 L481.1,148.1 L481.8,149.4 L482.6,150.7 L483.3,152.0 L484.1,153.3 L484.8,154.6 L485.5,156.0 L486.2,157.3 L486.9,158.6 L487.6,160.0 L488.3,161.3 L489.0,162.7 L489.7,164.0 L490.4,165.4 L491.1,166.7 L491.7,168.1 L492.4,169.4 L493.0,170.8 L493.7,172.2 L494.3,173.5 L495.0,174.9 L495.6,176.3 L496.2,177.7 L496.8,179.0 L497.4,180.4 L498.1,181.8 L498.7,183.2 L499.3,184.6 L499.8,186.0 L500.4,187.4 L501.0,188.8 L501.6,190.2 L502.2,191.6 L502.7,193.0 L503.3,194.4 L503.8,195.8 L504.4,197.2 L504.9,198.6 L505.5,200.0 L506.0,201.4 L506.6,202.8 L507.1,204.2 L507.6,205.7 L508.1,207.1 L508.7,208.5 L509.2,209.9 L509.7,211.4 L510.2,212.8 L510.7,214.2 L511.2,215.6 L511.7,217.1 L512.2,218.5 L512.6,219.9 L513.1,221.4 L513.6,222.8 L514.1,224.2 L514.5,225.7 L515.0,227.1 L515.5,228.5 L515.9,230.0 L516.4,231.4 L516.8,232.9 L517.3,234.3 L517.7,235.8 L518.2,237.2 L518.6,238.7 L519.1,240.1 L519.5,241.5 L519.9,243.0 L520.4,244.4 L520.8,245.9 L521.2,247.3 L521.6,248.8 L522.0,250.3 L522.4,251.7 L522.9,253.2 L523.3,254.6 L523.7,256.1 L524.1,257.5 L524.5,259.0 L524.9,260.5 L525.3,261.9 L525.7,263.4 L526.0,264.8 L526.4,266.3 L526.8,267.8 L527.2,269.2 L527.6,270.7 L527.9,272.2 L528.3,273.6 L528.7,275.1 L529.1,276.5 L529.4,278.0 L529.8,279.5 L530.2,281.0 L530.5,282.4 L530.9,283.9 L531.2,285.4 L531.6,286.8 L531.9,288.3 L532.3,289.8 L532.6,291.2 L533.0,292.7 L533.3,294.2 L533.7,295.7 L534.0,297.1 L534.3,298.6 L534.7,300.1 L535.0,301.6 L535.3,303.0 L535.7,304.5 L536.0,306.0 L536.3,307.5 L536.6,308.9 L536.9,310.4 L537.2,311.9" stroke="#000" stroke-width="2.3"/>
<path d="M81.0,171.3 L82.5,170.9 L83.9,170.4 L85.4,170.0 L86.8,169.6 L88.3,169.1 L89.8,168.7 L91.2,168.3 L92.7,167.9 L94.1,167.4 L95.6,167.0 L97.1,166.6 L98.5,166.2 L100.0,165.8 L101.5,165.4 L102.9,165.0 L104.4,164.6 L105.9,164.2 L107.3,163.8 L108.8,163.4 L110.3,163.0 L111.7,162.6 L113.2,162.2 L114.7,161.8 L116.1,161.4 L117.6,161.0 L119.1,160.6 L120.5,160.2 L122.0,159.8 L123.5,159.5 L125.0,159.1 L126.4,158.7 L127.9,158.3 L129.4,158.0 L130.9,157.6 L132.3,157.2 L133.8,156.9 L135.3,156.5 L136.8,156.1 L138.2,155.8 L139.7,155.4 L141.2,155.1 L142.7,154.7 L144.2,154.4 L145.7,154.1 L147.1,153.7 L148.6,153.4 L150.1,153.0 L151.6,152.7 L153.1,152.4 L154.5,152.0 L156.0,151.7 L157.5,151.3 L159.0,151.0 L160.5,150.7 L162.0,150.3 L163.5,150.0 L164.9,149.7 L166.4,149.3 L167.9,149.0 L169.4,148.6 L170.9,148.3 L172.3,148.0 L173.8,147.6 L175.3,147.3 L176.8,146.9 L178.3,146.6 L179.8,146.3 L181.2,145.9 L182.7,145.6 L184.2,145.3 L185.7,145.0 L187.2,144.7 L188.7,144.4 L190.2,144.0 L191.7,143.7 L193.2,143.4 L194.6,143.1 L196.1,142.7 L197.6,142.4 L199.1,142.0 L200.5,141.6 L202.0,141.2 L203.5,140.8 L204.9,140.4 L206.4,140.0 L207.8,139.5 L209.3,139.1 L210.7,138.6 L212.2,138.1 L213.6,137.6 L215.1,137.1 L216.5,136.6 L218.0,136.2 L219.4,135.7 L220.8,135.2 L222.3,134.7 L223.7,134.2 L225.1,133.7 L226.6,133.2 L228.0,132.6 L229.4,132.1 L230.9,131.6 L232.3,131.1 L233.7,130.5 L235.1,130.0 L236.6,129.5 L238.0,128.9 L239.4,128.4 L240.8,127.8 L242.2,127.3 L243.7,126.7 L245.1,126.2 L246.5,125.6 L247.9,125.1 L249.3,124.5 L250.7,123.9 L252.2,123.4 L253.6,122.8 L254.9,122.2 L256.3,121.6 L257.7,120.9 L259.1,120.3 L260.5,119.6 L261.8,119.0 L263.2,118.3 L264.6,117.6 L265.9,116.9 L267.3,116.2 L268.6,115.5 L269.9,114.7 L271.2,114.0 L272.5,113.2 L273.8,112.4 L275.1,111.6 L276.4,110.7 L277.6,109.9 L278.9,109.0 L280.3,108.4 L281.7,107.7 L283.1,107.1 L284.5,106.5 L285.9,105.8 L287.3,105.2 L288.7,104.6 L290.1,104.0 L291.6,103.5 L293.0,102.9 L294.4,102.3 L295.8,101.8 L297.3,101.2 L298.7,100.7 L300.1,100.1 L301.6,99.6 L303.0,99.1 L304.5,98.6 L305.9,98.1 L307.4,97.6 L308.8,97.1 L310.3,96.7 L311.7,96.1 L313.2,95.6 L314.7,95.1 L316.1,94.7 L317.6,94.2 L319.0,93.7 L320.5,93.2 L321.9,92.7 L323.4,92.2 L324.8,91.7 L326.3,91.1 L327.7,90.6 L329.1,90.1 L330.6,89.5 L332.0,89.0 L333.4,88.4 L334.8,87.9 L336.3,87.3 L337.7,86.7 L339.1,86.1 L340.5,85.5 L342.0,85.0 L343.4,84.4 L344.8,83.8 L346.2,83.2 L347.6,82.6 L349.1,82.0 L350.5,81.5 L351.9,80.9 L353.3,80.3 L354.7,79.7 L356.1,79.1 L357.6,78.5 L359.0,77.9 L360.4,77.2 L361.7,76.6 L363.1,76.0 L364.5,75.3 L365.9,74.7 L367.3,74.0 L368.7,73.3 L370.1,72.6 L371.4,72.0 L372.8,71.3 L374.2,70.6 L375.5,69.9 L376.9,69.1 L378.2,68.4 L379.6,67.7 L396.8,69.9 L398.1,70.7 L399.3,71.5 L400.6,72.4 L401.9,73.2 L403.1,74.0 L404.4,74.9 L405.7,75.7 L406.9,76.5 L408.2,77.4 L409.4,78.2 L410.7,79.1 L411.9,79.9 L413.2,80.8 L414.4,81.7 L415.7,82.5 L416.9,83.4 L418.1,84.3 L419.4,85.2 L420.6,86.0 L421.9,86.9 L423.1,87.8 L424.3,88.6 L425.6,89.5 L426.8,90.4 L428.1,91.2 L429.3,92.1 L430.6,93.0 L431.8,93.8 L433.0,94.7 L434.3,95.5 L435.6,96.4 L436.8,97.2 L438.1,98.0 L439.4,98.8 L440.7,99.7 L441.9,100.5 L443.1,101.5 L444.2,102.5 L445.3,103.5 L446.4,104.6 L447.4,105.7 L448.5,106.8 L449.5,107.9 L450.5,109.0 L451.6,110.1 L452.6,111.2 L453.6,112.3 L454.6,113.5 L455.6,114.6 L456.6,115.8 L457.6,116.9 L458.6,118.1 L459.5,119.2 L460.5,120.4 L461.5,121.6 L462.4,122.7 L463.4,123.9 L464.4,125.0 L465.4,126.2 L466.4,127.3 L467.4,128.5 L468.3,129.6 L469.3,130.8 L470.3,131.9 L471.2,133.1 L472.2,134.3 L473.1,135.5 L474.0,136.7 L474.9,138.0 L475.7,139.2 L476.5,140.5 L477.3,141.8 L478.1,143.1 L478.9,144.4 L479.7,145.7 L480.5,147.0 L481.2,148.3 L482.0,149.6 L482.8,150.9 L483.5,152.2 L484.2,153.5 L485.0,154.9 L485.7,156.2 L486.4,157.5 L487.1,158.8 L487.8,160.2 L488.5,161.5 L489.2,162.9 L489.9,164.2 L490.6,165.6 L491.3,166.9 L491.9,168.3 L492.6,169.7 L493.3,171.0 L493.9,172.4 L494.5,173.8 L495.2,175.1 L495.8,176.5 L496.4,177.9 L497.1,179.3 L497.7,180.7 L498.3,182.0 L498.9,183.4 L499.5,184.8 L500.1,186.2 L500.7,187.6 L501.2,189.0 L501.8,190.4 L502.4,191.8 L503.0,193.2 L503.5,194.6 L504.1,196.0 L504.6,197.4 L505.2,198.8 L505.7,200.3 L506.3,201.7 L506.8,203.1 L507.3,204.5 L507.9,205.9 L508.4,207.3 L508.9,208.8 L509.4,210.2 L509.9,211.6 L510.4,213.0 L510.9,214.5 L511.4,215.9 L511.9,217.3 L512.4,218.8 L512.9,220.2 L513.4,221.6 L513.9,223.1 L514.3,224.5 L514.8,226.0 L515.3,227.4 L515.7,228.8 L516.2,230.3 L516.7,231.7 L517.1,233.2 L517.6,234.6 L518.0,236.1 L518.5,237.5 L518.9,239.0 L519.3,240.4 L519.8,241.9 L520.2,243.3 L520.6,244.8 L521.1,246.2 L521.5,247.7 L521.9,249.1 L522.3,250.6 L522.7,252.0 L523.1,253.5 L523.5,254.9 L523.9,256.4 L524.4,257.9 L524.8,259.3 L525.1,260.8 L525.5,262.2 L525.9,263.7 L526.3,265.2 L526.7,266.6 L527.1,268.1 L527.5,269.6 L527.9,271.0 L528.2,272.5 L528.6,274.0 L529.0,275.4 L529.3,276.9 L529.7,278.4 L530.1,279.8 L530.4,281.3 L530.8,282.8 L531.2,284.3 L531.5,285.7 L531.9,287.2 L532.2,288.7 L532.6,290.1 L532.9,291.6 L533.3,293.1 L533.6,294.6 L534.0,296.0 L534.3,297.5 L534.6,299.0 L535.0,300.5 L535.3,301.9 L535.6,303.4 L536.0,304.9 L536.3,306.4 L536.6,307.9 L536.9,309.3 L537.2,310.8 L537.5,312.3" stroke="#000" stroke-width="2.2" stroke-dasharray="5.2 2.2"/>
</g>
<rect x="81.1" y="14.1" width="481.9" height="297.59999999999997" fill="none" stroke="#b8b8b8" stroke-width="1.5"/>
<line x1="81.1" y1="311.7" x2="81.1" y2="308.4" stroke="#222" stroke-width="0.7"/>
<line x1="201.5" y1="311.7" x2="201.5" y2="308.4" stroke="#222" stroke-width="0.7"/>
<line x1="322" y1="311.7" x2="322" y2="308.4" stroke="#222" stroke-width="0.7"/>
<line x1="442.5" y1="311.7" x2="442.5" y2="308.4" stroke="#222" stroke-width="0.7"/>
<line x1="563" y1="311.7" x2="563" y2="308.4" stroke="#222" stroke-width="0.7"/>
<line x1="81.1" y1="14.1" x2="84.39999999999999" y2="14.1" stroke="#222" stroke-width="0.7"/>
<line x1="81.1" y1="113.2" x2="84.39999999999999" y2="113.2" stroke="#222" stroke-width="0.7"/>
<line x1="81.1" y1="212.3" x2="84.39999999999999" y2="212.3" stroke="#222" stroke-width="0.7"/>
<line x1="81.1" y1="311.7" x2="84.39999999999999" y2="311.7" stroke="#222" stroke-width="0.7"/>
<text x="42.90" y="22.2" font-family="Liberation Serif, serif" font-size="25" textLength="25.3" lengthAdjust="spacingAndGlyphs">10</text><text x="67.95" y="12.2" font-family="Liberation Serif, serif" font-size="16.5" textLength="8.85" lengthAdjust="spacingAndGlyphs">2</text>
<text x="42.90" y="121.3" font-family="Liberation Serif, serif" font-size="25" textLength="25.3" lengthAdjust="spacingAndGlyphs">10</text><text x="67.95" y="111.3" font-family="Liberation Serif, serif" font-size="16.5" textLength="8.85" lengthAdjust="spacingAndGlyphs">1</text>
<text x="42.90" y="220.2" font-family="Liberation Serif, serif" font-size="25" textLength="25.3" lengthAdjust="spacingAndGlyphs">10</text><text x="67.95" y="210.2" font-family="Liberation Serif, serif" font-size="16.5" textLength="8.85" lengthAdjust="spacingAndGlyphs">0</text>
<text x="32.20" y="319.8" font-family="Liberation Serif, serif" font-size="25" textLength="25.3" lengthAdjust="spacingAndGlyphs">10</text><text x="57.40" y="309.8" font-family="Liberation Serif, serif" font-size="16.5" textLength="19.2" lengthAdjust="spacingAndGlyphs">−1</text>
<text x="57.90" y="336.9" font-family="Liberation Serif, serif" font-size="25" textLength="25.3" lengthAdjust="spacingAndGlyphs">10</text><text x="83.10" y="326.9" font-family="Liberation Serif, serif" font-size="16.5" textLength="19.2" lengthAdjust="spacingAndGlyphs">−3</text>
<text x="178.40" y="336.9" font-family="Liberation Serif, serif" font-size="25" textLength="25.3" lengthAdjust="spacingAndGlyphs">10</text><text x="203.60" y="326.9" font-family="Liberation Serif, serif" font-size="16.5" textLength="19.2" lengthAdjust="spacingAndGlyphs">−2</text>
<text x="298.90" y="336.9" font-family="Liberation Serif, serif" font-size="25" textLength="25.3" lengthAdjust="spacingAndGlyphs">10</text><text x="324.10" y="326.9" font-family="Liberation Serif, serif" font-size="16.5" textLength="19.2" lengthAdjust="spacingAndGlyphs">−1</text>
<text x="424.75" y="336.9" font-family="Liberation Serif, serif" font-size="25" textLength="25.3" lengthAdjust="spacingAndGlyphs">10</text><text x="449.80" y="326.9" font-family="Liberation Serif, serif" font-size="16.5" textLength="8.85" lengthAdjust="spacingAndGlyphs">0</text>
<text x="545.15" y="336.9" font-family="Liberation Serif, serif" font-size="25" textLength="25.3" lengthAdjust="spacingAndGlyphs">10</text><text x="570.20" y="326.9" font-family="Liberation Serif, serif" font-size="16.5" textLength="8.85" lengthAdjust="spacingAndGlyphs">1</text>
<text x="306.8" y="365.5" font-family="Liberation Serif, serif" font-size="20">p</text>
<line x1="319.0" y1="368.6" x2="324.7" y2="351.4" stroke="#000" stroke-width="1.25"/>
<text x="324.0" y="365.5" font-family="Liberation Serif, serif" font-size="20" textLength="13.3" lengthAdjust="spacingAndGlyphs">T</text>
<g transform="translate(19.9,228.8) rotate(-90)" font-family="Liberation Serif, serif" font-size="20.5"><text x="-0.3" y="0" textLength="33.2" lengthAdjust="spacingAndGlyphs">f(p)</text><text x="35.2" y="0" font-size="21" font-style="italic" textLength="7.8" lengthAdjust="spacingAndGlyphs">f</text><text x="44" y="-9" font-size="13">2</text><text x="42.2" y="4.9" font-size="14.5" font-style="italic">a</text><text x="53.4" y="0" font-style="italic" textLength="8" lengthAdjust="spacingAndGlyphs">c</text><text x="62" y="4.9" font-size="15" font-style="italic" textLength="9.2" lengthAdjust="spacingAndGlyphs">H</text><line x1="72" y1="3.7" x2="81.3" y2="-13.8" stroke="#000" stroke-width="1.1"/><text x="83.8" y="0" textLength="11.8" lengthAdjust="spacingAndGlyphs">C</text><text x="96.3" y="2.5" font-size="12" textLength="7.2" lengthAdjust="spacingAndGlyphs">Π</text><text x="106.6" y="0" font-style="italic" textLength="10" lengthAdjust="spacingAndGlyphs">T</text><text x="118.2" y="2.5" font-size="15" textLength="12.3" lengthAdjust="spacingAndGlyphs">rh</text></g>
<rect x="137.7" y="41.8" width="8.4" height="8.4" fill="#0000ff" stroke="#0000c8" stroke-width="0.6"/>
<rect x="195.2" y="41.8" width="8.4" height="8.4" fill="#00aa00" stroke="#008c00" stroke-width="0.6"/>
<rect x="137.7" y="71.8" width="8.4" height="8.4" fill="#ff0000" stroke="#d40000" stroke-width="0.6"/>
<rect x="198.2" y="71.8" width="8.4" height="8.4" fill="#000" stroke="#000" stroke-width="0.6"/>
<text x="153.5" y="50.2" font-family="Liberation Serif, serif" font-size="20" textLength="22" lengthAdjust="spacingAndGlyphs">SS</text>
<text x="211" y="50.2" font-family="Liberation Serif, serif" font-size="20" textLength="59.6" lengthAdjust="spacingAndGlyphs">TS+ST</text>
<text x="153.7" y="79.8" font-family="Liberation Serif, serif" font-size="20" textLength="23.8" lengthAdjust="spacingAndGlyphs">TT</text>
<text x="214.3" y="79.8" font-family="Liberation Serif, serif" font-size="20" textLength="92" lengthAdjust="spacingAndGlyphs">Combined</text>
</svg></body></html>
